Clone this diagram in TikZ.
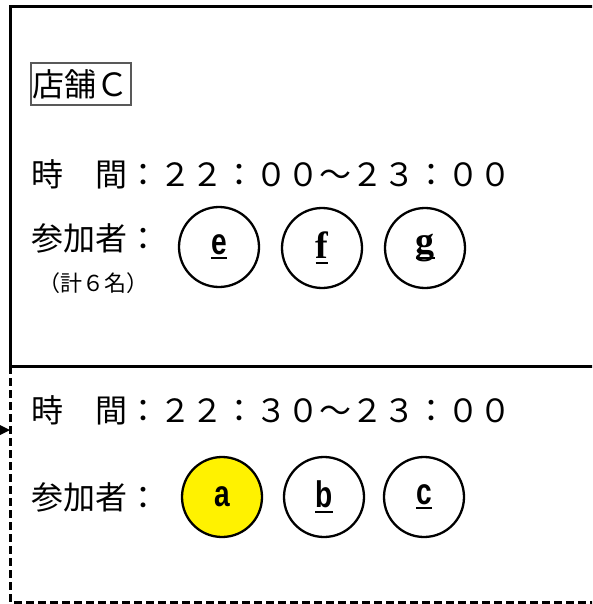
\documentclass[tikz,border=0pt]{standalone}
\usepackage{fontspec}
\setmainfont{Noto Sans CJK JP}
\newfontfamily\lsans{Liberation Sans}
\newfontfamily\lserif{Liberation Serif}
\usetikzlibrary{arrows.meta}
\newsavebox\myulbox
\newcommand\myul[1]{\sbox\myulbox{#1}\rlap{\rule[-5pt]{\wd\myulbox}{2pt}}\usebox\myulbox}
\newcommand\sanslab[1]{{\lsans\bfseries\fontsize{37}{37}\selectfont\scalebox{0.76}[1]{#1}}}
\newcommand\seriflab[1]{{\lserif\bfseries\fontsize{38}{38}\selectfont #1}}
\tikzset{
  jp/.style={font=\fontsize{32}{32}\selectfont, inner sep=0pt, anchor=west},
  jpsmall/.style={font=\fontsize{22}{22}\selectfont, inner sep=0pt, anchor=west},
  person/.style={circle, draw, line width=2.3pt, minimum size=80pt, inner sep=0pt},
  solidframe/.style={line width=3pt},
  dashframe/.style={line width=3pt, dash pattern=on 8pt off 4pt},
}
\begin{document}
\begin{tikzpicture}[x=1pt,y=-1pt]
\useasboundingbox (0,0) rectangle (592,604);
\clip (0,0) rectangle (592,604);
% frames
\draw[solidframe] (610,7) -- (10,7) -- (10,366) -- (610,366);
\draw[dashframe] (10,366) -- (10,602) -- (610,602);
% arrow into dashed frame
\coordinate (src) at (-8,430);
\coordinate (dl) at (10,430);
\draw[line width=1.5pt, shorten >=8pt] (src) -- (dl);
\fill (dl) -- ++(-10,-5) -- ++(0,10) -- cycle;
% top block
\node[draw=black!65, line width=1.5pt, inner xsep=2pt, inner ysep=6pt, anchor=west,
      font=\fontsize{32}{32}\selectfont] (shop) at (30,84) {店舗Ｃ};
\node[jp] (time1) at (31,174) {時　間：２２：００～２３：００};
\node[jp] (part1) at (31,238) {参加者：};
\node[jpsmall] (count) at (38,283) {（計６名）};
\node[person] (e) at (219,247) {\myul{\sanslab{e}}};
\node[person] (f) at (322,248) {\myul{\seriflab{f}}};
\node[person] (g) at (425,248) {\myul{\seriflab{g}}};
% bottom block
\node[jp] (time2) at (31,410) {時　間：２２：３０～２３：００};
\node[jp] (part2) at (31,497) {参加者：};
\node[person, fill=yellow] (a) at (222,497) {\sanslab{a}};
\node[person] (b) at (324,497) {\myul{\sanslab{b}}};
\node[person] (c) at (424,497) {\myul{\sanslab{c}}};
\end{tikzpicture}
\end{document}
